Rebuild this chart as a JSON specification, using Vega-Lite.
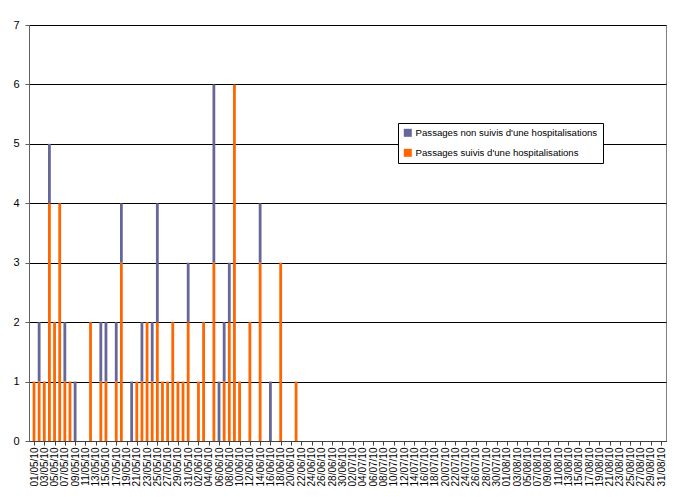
{
  "$schema": "https://vega.github.io/schema/vega-lite/v6.json",
  "width": 637,
  "height": 416,
  "autosize": {"type": "none"},
  "padding": {"left": 29, "top": 25, "right": 16, "bottom": 56},
  "background": "white",
  "config": {
    "font": "Liberation Sans",
    "view": {"stroke": "#808080", "strokeWidth": 1}
  },
  "data": {
    "values": [
      {"date": "2010-05-01", "serie": "Passages suivis d'une hospitalisations", "n": 1},
      {"date": "2010-05-02", "serie": "Passages suivis d'une hospitalisations", "n": 1},
      {"date": "2010-05-02", "serie": "Passages non suivis d'une hospitalisations", "n": 1},
      {"date": "2010-05-03", "serie": "Passages suivis d'une hospitalisations", "n": 1},
      {"date": "2010-05-04", "serie": "Passages suivis d'une hospitalisations", "n": 4},
      {"date": "2010-05-04", "serie": "Passages non suivis d'une hospitalisations", "n": 1},
      {"date": "2010-05-05", "serie": "Passages suivis d'une hospitalisations", "n": 2},
      {"date": "2010-05-06", "serie": "Passages suivis d'une hospitalisations", "n": 4},
      {"date": "2010-05-07", "serie": "Passages suivis d'une hospitalisations", "n": 1},
      {"date": "2010-05-07", "serie": "Passages non suivis d'une hospitalisations", "n": 1},
      {"date": "2010-05-08", "serie": "Passages suivis d'une hospitalisations", "n": 1},
      {"date": "2010-05-09", "serie": "Passages non suivis d'une hospitalisations", "n": 1},
      {"date": "2010-05-12", "serie": "Passages suivis d'une hospitalisations", "n": 2},
      {"date": "2010-05-14", "serie": "Passages suivis d'une hospitalisations", "n": 1},
      {"date": "2010-05-14", "serie": "Passages non suivis d'une hospitalisations", "n": 1},
      {"date": "2010-05-15", "serie": "Passages suivis d'une hospitalisations", "n": 1},
      {"date": "2010-05-15", "serie": "Passages non suivis d'une hospitalisations", "n": 1},
      {"date": "2010-05-17", "serie": "Passages suivis d'une hospitalisations", "n": 1},
      {"date": "2010-05-17", "serie": "Passages non suivis d'une hospitalisations", "n": 1},
      {"date": "2010-05-18", "serie": "Passages suivis d'une hospitalisations", "n": 3},
      {"date": "2010-05-18", "serie": "Passages non suivis d'une hospitalisations", "n": 1},
      {"date": "2010-05-20", "serie": "Passages non suivis d'une hospitalisations", "n": 1},
      {"date": "2010-05-21", "serie": "Passages suivis d'une hospitalisations", "n": 1},
      {"date": "2010-05-22", "serie": "Passages suivis d'une hospitalisations", "n": 1},
      {"date": "2010-05-22", "serie": "Passages non suivis d'une hospitalisations", "n": 1},
      {"date": "2010-05-23", "serie": "Passages suivis d'une hospitalisations", "n": 2},
      {"date": "2010-05-24", "serie": "Passages suivis d'une hospitalisations", "n": 1},
      {"date": "2010-05-24", "serie": "Passages non suivis d'une hospitalisations", "n": 1},
      {"date": "2010-05-25", "serie": "Passages suivis d'une hospitalisations", "n": 2},
      {"date": "2010-05-25", "serie": "Passages non suivis d'une hospitalisations", "n": 2},
      {"date": "2010-05-26", "serie": "Passages suivis d'une hospitalisations", "n": 1},
      {"date": "2010-05-27", "serie": "Passages suivis d'une hospitalisations", "n": 1},
      {"date": "2010-05-28", "serie": "Passages suivis d'une hospitalisations", "n": 2},
      {"date": "2010-05-29", "serie": "Passages suivis d'une hospitalisations", "n": 1},
      {"date": "2010-05-30", "serie": "Passages suivis d'une hospitalisations", "n": 1},
      {"date": "2010-05-31", "serie": "Passages suivis d'une hospitalisations", "n": 2},
      {"date": "2010-05-31", "serie": "Passages non suivis d'une hospitalisations", "n": 1},
      {"date": "2010-06-02", "serie": "Passages suivis d'une hospitalisations", "n": 1},
      {"date": "2010-06-03", "serie": "Passages suivis d'une hospitalisations", "n": 2},
      {"date": "2010-06-05", "serie": "Passages suivis d'une hospitalisations", "n": 3},
      {"date": "2010-06-05", "serie": "Passages non suivis d'une hospitalisations", "n": 3},
      {"date": "2010-06-06", "serie": "Passages non suivis d'une hospitalisations", "n": 1},
      {"date": "2010-06-07", "serie": "Passages suivis d'une hospitalisations", "n": 1},
      {"date": "2010-06-07", "serie": "Passages non suivis d'une hospitalisations", "n": 1},
      {"date": "2010-06-08", "serie": "Passages suivis d'une hospitalisations", "n": 2},
      {"date": "2010-06-08", "serie": "Passages non suivis d'une hospitalisations", "n": 1},
      {"date": "2010-06-09", "serie": "Passages suivis d'une hospitalisations", "n": 6},
      {"date": "2010-06-10", "serie": "Passages suivis d'une hospitalisations", "n": 1},
      {"date": "2010-06-12", "serie": "Passages suivis d'une hospitalisations", "n": 2},
      {"date": "2010-06-14", "serie": "Passages suivis d'une hospitalisations", "n": 3},
      {"date": "2010-06-14", "serie": "Passages non suivis d'une hospitalisations", "n": 1},
      {"date": "2010-06-16", "serie": "Passages non suivis d'une hospitalisations", "n": 1},
      {"date": "2010-06-18", "serie": "Passages suivis d'une hospitalisations", "n": 3},
      {"date": "2010-06-21", "serie": "Passages suivis d'une hospitalisations", "n": 1}
    ]
  },
  "mark": {"type": "bar", "size": 2.8},
  "encoding": {
    "x": {
      "field": "date",
      "type": "temporal",
      "scale": {
        "type": "utc",
        "domain": [
          {"year": 2010, "month": 5, "date": 1, "utc": true},
          {"year": 2010, "month": 8, "date": 31, "utc": true}
        ]
      },
      "axis": {
        "title": null,
        "grid": false,
        "labelExpr": "utcFormat(datum.value, '%d/%m/%y')",
        "labelAngle": -90,
        "labelAlign": "right",
        "labelBaseline": "middle",
        "labelFontSize": 10,
        "labelColor": "black",
        "labelPadding": 2,
        "labelOverlap": false,
        "labelFlush": false,
        "tickSize": 4,
        "tickColor": "#404040",
        "domainColor": "#404040",
        "values": [
          {"year": 2010, "month": 5, "date": 1, "utc": true},
          {"year": 2010, "month": 5, "date": 3, "utc": true},
          {"year": 2010, "month": 5, "date": 5, "utc": true},
          {"year": 2010, "month": 5, "date": 7, "utc": true},
          {"year": 2010, "month": 5, "date": 9, "utc": true},
          {"year": 2010, "month": 5, "date": 11, "utc": true},
          {"year": 2010, "month": 5, "date": 13, "utc": true},
          {"year": 2010, "month": 5, "date": 15, "utc": true},
          {"year": 2010, "month": 5, "date": 17, "utc": true},
          {"year": 2010, "month": 5, "date": 19, "utc": true},
          {"year": 2010, "month": 5, "date": 21, "utc": true},
          {"year": 2010, "month": 5, "date": 23, "utc": true},
          {"year": 2010, "month": 5, "date": 25, "utc": true},
          {"year": 2010, "month": 5, "date": 27, "utc": true},
          {"year": 2010, "month": 5, "date": 29, "utc": true},
          {"year": 2010, "month": 5, "date": 31, "utc": true},
          {"year": 2010, "month": 6, "date": 2, "utc": true},
          {"year": 2010, "month": 6, "date": 4, "utc": true},
          {"year": 2010, "month": 6, "date": 6, "utc": true},
          {"year": 2010, "month": 6, "date": 8, "utc": true},
          {"year": 2010, "month": 6, "date": 10, "utc": true},
          {"year": 2010, "month": 6, "date": 12, "utc": true},
          {"year": 2010, "month": 6, "date": 14, "utc": true},
          {"year": 2010, "month": 6, "date": 16, "utc": true},
          {"year": 2010, "month": 6, "date": 18, "utc": true},
          {"year": 2010, "month": 6, "date": 20, "utc": true},
          {"year": 2010, "month": 6, "date": 22, "utc": true},
          {"year": 2010, "month": 6, "date": 24, "utc": true},
          {"year": 2010, "month": 6, "date": 26, "utc": true},
          {"year": 2010, "month": 6, "date": 28, "utc": true},
          {"year": 2010, "month": 6, "date": 30, "utc": true},
          {"year": 2010, "month": 7, "date": 2, "utc": true},
          {"year": 2010, "month": 7, "date": 4, "utc": true},
          {"year": 2010, "month": 7, "date": 6, "utc": true},
          {"year": 2010, "month": 7, "date": 8, "utc": true},
          {"year": 2010, "month": 7, "date": 10, "utc": true},
          {"year": 2010, "month": 7, "date": 12, "utc": true},
          {"year": 2010, "month": 7, "date": 14, "utc": true},
          {"year": 2010, "month": 7, "date": 16, "utc": true},
          {"year": 2010, "month": 7, "date": 18, "utc": true},
          {"year": 2010, "month": 7, "date": 20, "utc": true},
          {"year": 2010, "month": 7, "date": 22, "utc": true},
          {"year": 2010, "month": 7, "date": 24, "utc": true},
          {"year": 2010, "month": 7, "date": 26, "utc": true},
          {"year": 2010, "month": 7, "date": 28, "utc": true},
          {"year": 2010, "month": 7, "date": 30, "utc": true},
          {"year": 2010, "month": 8, "date": 1, "utc": true},
          {"year": 2010, "month": 8, "date": 3, "utc": true},
          {"year": 2010, "month": 8, "date": 5, "utc": true},
          {"year": 2010, "month": 8, "date": 7, "utc": true},
          {"year": 2010, "month": 8, "date": 9, "utc": true},
          {"year": 2010, "month": 8, "date": 11, "utc": true},
          {"year": 2010, "month": 8, "date": 13, "utc": true},
          {"year": 2010, "month": 8, "date": 15, "utc": true},
          {"year": 2010, "month": 8, "date": 17, "utc": true},
          {"year": 2010, "month": 8, "date": 19, "utc": true},
          {"year": 2010, "month": 8, "date": 21, "utc": true},
          {"year": 2010, "month": 8, "date": 23, "utc": true},
          {"year": 2010, "month": 8, "date": 25, "utc": true},
          {"year": 2010, "month": 8, "date": 27, "utc": true},
          {"year": 2010, "month": 8, "date": 29, "utc": true},
          {"year": 2010, "month": 8, "date": 31, "utc": true}
        ]
      }
    },
    "y": {
      "field": "n",
      "type": "quantitative",
      "stack": "zero",
      "scale": {"domain": [0, 7], "nice": false},
      "axis": {
        "title": null,
        "values": [0, 1, 2, 3, 4, 5, 6, 7],
        "grid": true,
        "gridColor": "black",
        "gridOpacity": 1,
        "gridWidth": 1,
        "labelFontSize": 11,
        "labelColor": "black",
        "labelPadding": 6,
        "tickSize": 4,
        "tickColor": "#606060",
        "domainColor": "#606060"
      }
    },
    "color": {
      "field": "serie",
      "type": "nominal",
      "scale": {
        "domain": ["Passages non suivis d'une hospitalisations", "Passages suivis d'une hospitalisations"],
        "range": ["#666699", "#FF6600"]
      },
      "legend": {
        "title": null,
        "orient": "none",
        "legendX": 369,
        "legendY": 98,
        "strokeColor": "black",
        "fillColor": "white",
        "padding": 5,
        "symbolType": "square",
        "symbolSize": 64,
        "symbolStrokeWidth": 0,
        "symbolOpacity": 1,
        "labelFontSize": 9.6,
        "labelColor": "black",
        "labelOffset": 3,
        "labelLimit": 400,
        "rowPadding": 9
      }
    },
    "order": {"field": "serie", "sort": "descending"}
  }
}
